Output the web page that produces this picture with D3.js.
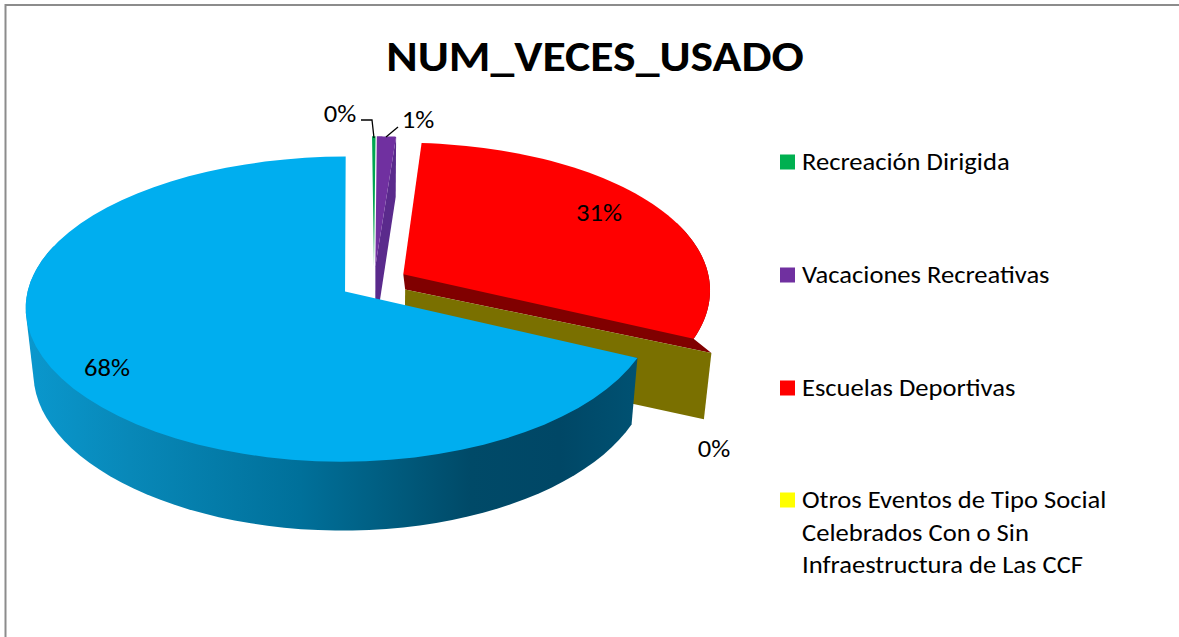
<!DOCTYPE html>
<html><head><meta charset="utf-8">
<script src="https://cdn.jsdelivr.net/npm/d3@7"></script>
<style>html,body{margin:0;padding:0;background:#fff}svg{display:block}text{font-family:Carlito,Lato,"Open Sans",sans-serif;fill:#000}</style>
</head><body><svg id="c" width="1179" height="637"></svg>
<script>
const categories = ["Recreación Dirigida","Vacaciones Recreativas","Escuelas Deportivas","Otros Eventos de Tipo Social|Celebrados Con o Sin|Infraestructura de Las CCF","Otros"];
const values = [0.2, 1.1, 30.7, 0.02, 67.98];
const pctLabels = ["0%","1%","31%","0%","68%"];
const legendColors = ["#00b050","#7030a0","#ff0000","#ffff00"];
const topColors = ["#00a651","#7030a0","#ff0000","#7a7000","#00aeef"];
const wallColors = ["#00803c","#5a2a8c","#800000","#7a7000","#005070"];
const blueWallStops = [[25,"#0a98ce"],[130,"#0888b8"],[300,"#00709a"],[400,"#005a7c"],[470,"#004a68"],[560,"#004766"],[640,"#005273"]];

const svg = d3.select("#c");
const defs = svg.append("defs");

// frame
svg.append("path").attr("d","M5.5,637V5H1179").attr("fill","none").attr("stroke","#8c8c8c").attr("stroke-width",2);

function label(x,y,size,sx,str,anchor,weight){
  return svg.append("text").attr("transform",`translate(${x},${y}) scale(${sx},1)`)
    .attr("text-anchor",anchor||"start").style("font-size",size+"px").style("font-weight",weight||400).text(str);
}

// title
label(595,71,43,1.11,"NUM_VECES_USADO","middle",700);

// pie layout
const startA = -0.4*Math.PI/180;
const pie = d3.pie().sort(null).value(d=>d).startAngle(startA).endAngle(startA+2*Math.PI)(values);
const explode = 0.11, Rx = 311, Ry = 148.5, px = 0.115, pxx = 0.1, hp = 0.012, qz = 0.022, depth = 66, x0 = 374, y0 = 282.5;
function P(slice, angle, r, z){
  const m = (slice.startAngle+slice.endAngle)/2;
  const u = explode*Math.sin(m)+r*Math.sin(angle);
  const v = explode*Math.cos(m)+r*Math.cos(angle);
  return [x0+Rx*u/(1+pxx*v+hp*u+qz*z), y0+(-Ry*v+depth*z)/(1+px*v+qz*z)];
}
const line = d3.line();
const arcPts = (s,a0,a1,z)=>d3.range(0,61).map(i=>P(s,a0+(a1-a0)*i/60,1,z));
const topFace = s=>line([P(s,0,0,0),...arcPts(s,s.startAngle,s.endAngle,0)])+"Z";
const sideWall = (s,a0,a1)=>line(d3.polygonHull([...arcPts(s,a0,a1,0),...arcPts(s,a0,a1,1)]))+"Z";
const cutWall = (s,a,r=1)=>line([P(s,0,0,0),P(s,a,r,0),P(s,a,r,1),P(s,0,0,1)])+"Z";

const g = svg.append("g");
const grad = defs.append("linearGradient").attr("id","bw").attr("gradientUnits","userSpaceOnUse")
  .attr("x1",25).attr("x2",640).attr("y1",0).attr("y2",0);
grad.selectAll("stop").data(blueWallStops).join("stop")
  .attr("offset",d=>(d[0]-25)/615).attr("stop-color",d=>d[1]);

const [sG,sP,sR,sY,sB] = pie;
const yA = sY.startAngle-1.8*Math.PI/180, yR = 1.032;
// red
g.append("path").attr("d",line([P(sR,0,0,0),...arcPts(sR,1.2,sR.endAngle,0),P(sY,yA,yR,0),P(sY,0,0,0)])+"Z").attr("fill",wallColors[2]);
g.append("path").attr("d",topFace(sR)).attr("fill",topColors[2]);
// yellow zero wedge
g.append("path").attr("d",cutWall(sY,yA,yR)).attr("fill",wallColors[3]);
// purple
g.append("path").attr("d",cutWall(sP,sP.endAngle)).attr("fill",wallColors[1]);
g.append("path").attr("d",topFace(sP)).attr("fill",topColors[1]);
// green
g.append("path").attr("d",topFace(sG)).attr("fill",topColors[0]);
// blue
g.append("path").attr("d",sideWall(sB,sB.startAngle,Math.PI*1.6)).attr("fill","url(#bw)");
g.append("path").attr("d",topFace(sB)).attr("fill",topColors[4]);

// leaders
const leaders = [[[361,120],[372,120],[374,138]],[[398,127],[386,137]]];
svg.selectAll("path.leader").data(leaders).join("path").attr("class","leader")
  .attr("d",d=>line(d)).attr("fill","none").attr("stroke","#000").attr("stroke-width",1.3);

// pct labels
const labelPos = [[340,122],[418,128],[599,221],[714,457],[107,376]];
pctLabels.forEach((d,i)=>label(labelPos[i][0],labelPos[i][1],24.5,1.085,d,"middle"));

// legend
const legendY = [162,275,388,500];
legendColors.forEach((c,i)=>{
  svg.append("rect").attr("x",780).attr("y",legendY[i]-7.5).attr("width",15).attr("height",15).attr("fill",c);
  categories[i].split("|").forEach((l,j)=>label(802,legendY[i]+8+j*32.5,24.5,1.085,l));
});
</script></body></html>
